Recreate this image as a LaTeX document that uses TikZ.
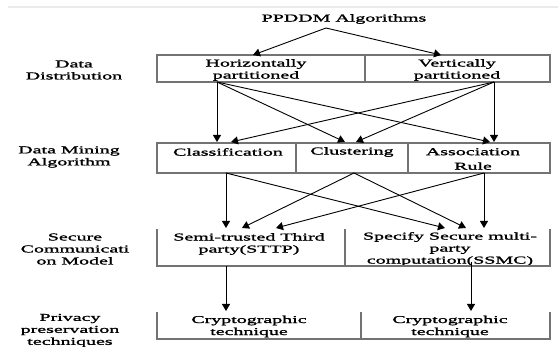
\documentclass[tikz,border=0pt]{standalone}
\usepackage{fontspec}
\setmainfont{Liberation Serif}[FakeStretch=1.9,FakeBold=1.6]
\usetikzlibrary{arrows.meta,positioning}

\tikzset{
  txt/.style={align=center, inner sep=0pt, font=\fontsize{10.5}{12}\selectfont},
  cellline/.style={draw=black!55, line width=1.2pt},
  link/.style={line width=0.9pt, -{Triangle[width=8pt,length=7pt]}},
}

\begin{document}
\begin{tikzpicture}[x=1pt, y=-1pt]

  \useasboundingbox (0,0) rectangle (558,347);

  % faint line at the top edge
  \draw[black!8, line width=2pt] (8,7) -- (558,7);

  %-------------------------
  % Text of the levels
  %-------------------------
  \node[txt] (title) at (344,19) {PPDDM Algorithms};

  \node[txt] (distlbl) at (74,70) {Data\\Distribution};
  \node[txt] (horiz) at (256,70) {Horizontally\\partitioned};
  \node[txt] (vert) at (457,70) {Vertically\\partitioned};

  \node[txt] (minelbl) at (69,157) {Data Mining\\Algorithm};
  \node[txt] (classif) at (228,152) {Classification};
  \node[txt] (cluster) at (352,152) {Clustering};
  \node[txt] (assoc) at (473,159) {Association\\[2.5pt]Rule};

  \node[txt] (commlbl) at (75,249) {Secure\\Communicati\\on Model};
  \node[txt] (sttp) at (249,244) {Semi-trusted Third\\party(STTP)};
  \node[txt] (ssmc) at (450,249) {Specify Secure multi-\\party\\computation(SSMC)};

  \node[txt] (privlbl) at (70,330.5) {Privacy\\preservation\\techniques};
  \node[txt] (crypto1) at (249,326.5) {Cryptographic\\technique};
  \node[txt] (crypto2) at (450,326.5) {Cryptographic\\technique};

  %-------------------------
  % Cell outlines
  %-------------------------
  \draw[cellline] (157,55) rectangle (550,82);
  \draw[cellline] (365,55) -- (365,82);

  \draw[cellline] (157,143) rectangle (550,173);
  \draw[cellline] (296,143) -- (296,173);
  \draw[cellline] (408,143) -- (408,173);

  \draw[cellline] (157,229) -- (157,266) -- (550,266) -- (550,229);
  \draw[cellline] (345,229) -- (345,266);

  \draw[cellline] (157,312) -- (157,339) -- (550,339) -- (550,312);
  \draw[cellline] (361,312) -- (361,339);

  %-------------------------
  % Connector ends
  %-------------------------
  \coordinate (apex) at (326,28);
  \coordinate (horiz-in) at (253,55);
  \coordinate (vert-in) at (441,55);

  \coordinate (horiz-out) at (217,82);
  \coordinate (vert-out) at (494,82);

  \coordinate (classif-in1) at (217,142);
  \coordinate (classif-in2) at (231,142);
  \coordinate (cluster-in1) at (345,142);
  \coordinate (cluster-in2) at (356,142);
  \coordinate (assoc-in1) at (490,142);
  \coordinate (assoc-in2) at (494,142);

  \coordinate (classif-out) at (226,173);
  \coordinate (cluster-out) at (354,173);
  \coordinate (assoc-out) at (484,173);

  \coordinate (sttp-in1) at (226,228);
  \coordinate (sttp-in2) at (242,228);
  \coordinate (sttp-in3) at (276,228);
  \coordinate (ssmc-in1) at (445,228);
  \coordinate (ssmc-in2) at (466,228);
  \coordinate (ssmc-in3) at (484,228);

  \coordinate (sttp-out) at (226,266);
  \coordinate (ssmc-out) at (471,262);
  \coordinate (crypto1-in) at (226,311);
  \coordinate (crypto2-in) at (471,311);

  %-------------------------
  % Connectors
  %-------------------------
  \draw[link] (apex) -- (horiz-in);
  \draw[link] (apex) -- (vert-in);

  \draw[link] (horiz-out) -- (classif-in1);
  \draw[link] (horiz-out) -- (cluster-in1);
  \draw[link] (horiz-out) -- (assoc-in1);
  \draw[link] (vert-out) -- (classif-in2);
  \draw[link] (vert-out) -- (cluster-in2);
  \draw[link] (vert-out) -- (assoc-in2);

  \draw[link] (classif-out) -- (sttp-in1);
  \draw[link] (classif-out) -- (ssmc-in1);
  \draw[link] (cluster-out) -- (sttp-in2);
  \draw[link] (cluster-out) -- (ssmc-in2);
  \draw[link] (assoc-out) -- (sttp-in3);
  \draw[link] (assoc-out) -- (ssmc-in3);

  \draw[link] (sttp-out) -- (crypto1-in);
  \draw[link] (ssmc-out) -- (crypto2-in);

\end{tikzpicture}
\end{document}
